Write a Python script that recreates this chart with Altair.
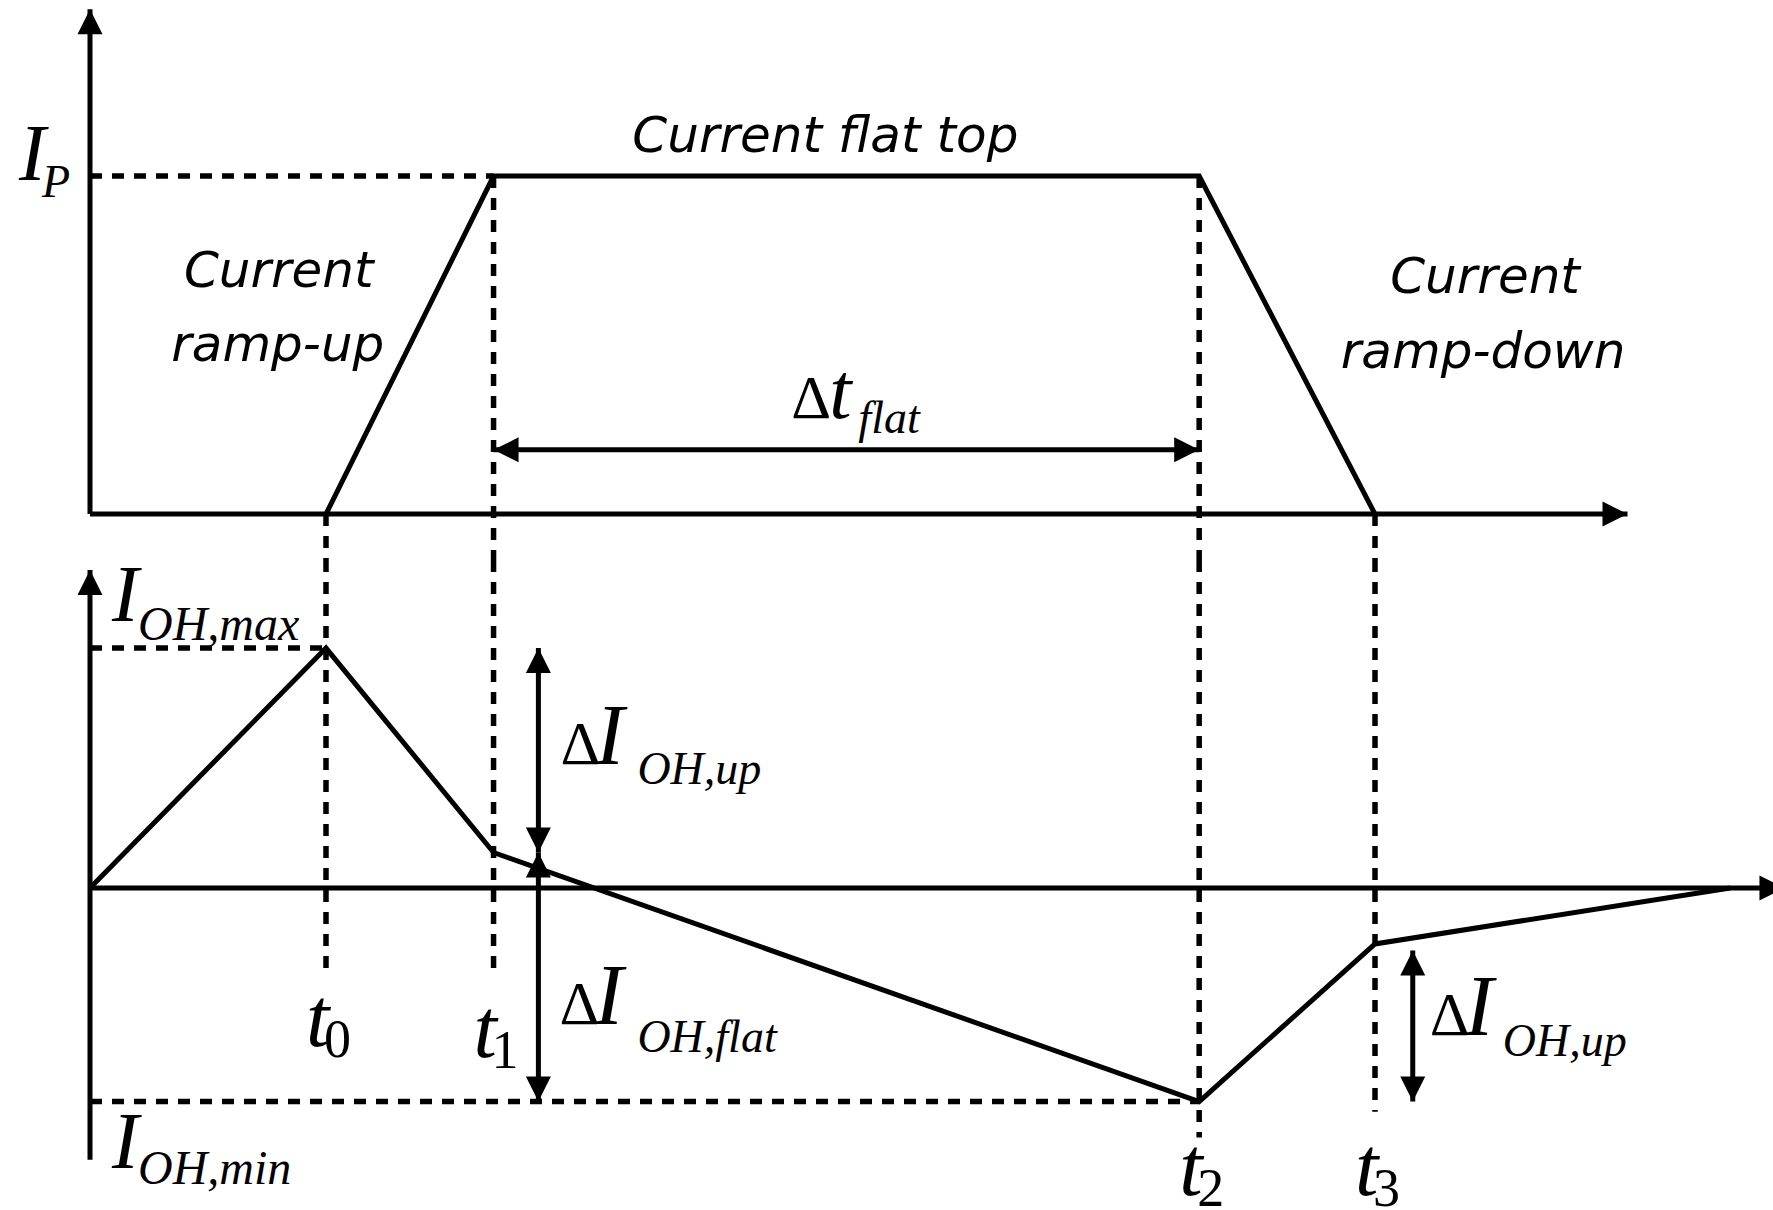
import altair as alt
import pandas as pd

# ---------------------------------------------------------------------------
# Waveform data (arbitrary time units, currents normalised)
# ---------------------------------------------------------------------------
T_SUBSCRIPTS = ["0", "1", "2", "3"]
T_INSTANTS = [2.0, 3.42, 9.40, 10.89]            # t0 .. t3

# plasma current I_p / I_P at t0 .. t3 (trapezoidal pulse)
IP_LEVELS = [0.0, 1.0, 1.0, 0.0]

# OH coil current breakpoints
IOH_TIMES = [0.0, 2.0, 3.42, 9.40, 10.89, 13.90]
IOH_LEVELS = [0.0, 1.0, 0.148, -0.89, -0.233, 0.0]
IOH_MAX = 1.0
IOH_MIN = -0.89

# lower ends of the dashed t-markers in the OH panel
MARKER_ENDS = [-0.35, -0.35, -1.04, -0.933]

# annotation arrows
DT_LEVEL = 0.19          # height of the Δt_flat arrow
DI_TIME = 3.80           # ΔI_OH,up / ΔI_OH,flat arrows
DI2_TIME = 11.21         # second ΔI_OH,up arrow
DI2_TOP = -0.26

# axis extents
X_DOMAIN = [0.0, 14.263]
TOP_DOMAIN = [-2.059, 1.521]     # I_p scale over the full drawing height
BOT_DOMAIN = [-1.342, 3.701]     # I_OH scale over the full drawing height
TOP_SPLIT = -0.136               # boundary between the panels, I_p units
BOT_SPLIT = 1.367                # same boundary, I_OH units
TOP_T_END = 13.03
BOT_T_END = 14.36
TOP_I_END = 1.494
BOT_I_RANGE = [-1.133, 1.325]

# ---------------------------------------------------------------------------
# drawing helpers
# ---------------------------------------------------------------------------
W, H = 1683, 1210
XS = alt.Scale(domain=X_DOMAIN, nice=False, zero=False)
Y_TOP = alt.Scale(domain=TOP_DOMAIN, nice=False, zero=False)
Y_BOT = alt.Scale(domain=BOT_DOMAIN, nice=False, zero=False)
LW = 5
DASH_W = 5.5
DASH = [12, 10]
ARROW = "M0,0L-1,2L1,2Z"       # arrow head, tip at the anchor point
HEAD = 625
MATH = "Liberation Serif"
SANS = "DejaVu Sans"
I_BIG = 86      # italic I of the ΔI labels
I_MID = 80      # italic I of the axis labels
SUB = 46        # subscripts
DELTA = 62


def enc(ys, two=False):
    e = dict(x=alt.X("x:Q", scale=XS, axis=None),
             y=alt.Y("y:Q", scale=ys, axis=None))
    if two:
        e["x2"] = alt.X2("x2:Q")
        e["y2"] = alt.Y2("y2:Q")
    return e


def segment(x0, y0, x1, y1, ys, dashed=False):
    df = pd.DataFrame({"x": [x0], "y": [y0], "x2": [x1], "y2": [y1]})
    kw = dict(color="black", strokeWidth=LW, strokeCap="butt")
    if dashed:
        kw["strokeDash"] = DASH
        kw["strokeWidth"] = DASH_W
    return alt.Chart(df).mark_rule(**kw).encode(**enc(ys, True))


def head(x, y, angle, ys):
    df = pd.DataFrame({"x": [x], "y": [y]})
    return alt.Chart(df).mark_point(
        shape=ARROW, size=HEAD, filled=True, color="black",
        opacity=1, strokeWidth=0, angle=angle,
    ).encode(**enc(ys))


def polyline(ts, vs, ys):
    df = pd.DataFrame({"x": ts, "y": vs, "i": list(range(len(ts)))})
    return alt.Chart(df).mark_line(
        color="black", strokeWidth=LW, strokeJoin="miter", strokeMiterLimit=20
    ).encode(order="i:Q", **enc(ys))


def text(x, y, ys, s, size, dx, dy, font=MATH, italic=True, align="left",
         weight=None):
    df = pd.DataFrame({"x": [x], "y": [y]})
    kw = dict(text=s, font=font, fontSize=size, dx=dx, dy=dy, align=align,
              baseline="alphabetic", color="black")
    if italic:
        kw["fontStyle"] = "italic"
    if weight is not None:
        kw["fontWeight"] = weight
    return alt.Chart(df).mark_text(**kw).encode(**enc(ys))


def phase(x, y, s, dx, dy):
    return text(x, y, Y_TOP, s, 50, dx, dy, font=SANS, align="center", weight=300)


t0, t1, t2, t3 = T_INSTANTS
i_t1 = IOH_LEVELS[2]
i_t3 = IOH_LEVELS[4]
t_mid = (t1 + t2) / 2

# ---------------------------------------------------------------------------
# upper panel: plasma current
# ---------------------------------------------------------------------------
top = [
    segment(0, 0, 0, TOP_I_END, Y_TOP),
    head(0, TOP_I_END, 0, Y_TOP),
    segment(0, 0, TOP_T_END, 0, Y_TOP),
    head(TOP_T_END, 0, 90, Y_TOP),
    segment(0, 1.0, t1, 1.0, Y_TOP, dashed=True),
]
for k in range(4):
    top.append(segment(T_INSTANTS[k], IP_LEVELS[k], T_INSTANTS[k], TOP_SPLIT,
                       Y_TOP, dashed=True))
top += [
    polyline(T_INSTANTS, IP_LEVELS, Y_TOP),
    segment(t1, DT_LEVEL, t2, DT_LEVEL, Y_TOP),
    head(t1, DT_LEVEL, 270, Y_TOP),
    head(t2, DT_LEVEL, 90, Y_TOP),
    # I_P
    text(0, 1.0, Y_TOP, "I", I_MID, -71, 4),
    text(0, 1.0, Y_TOP, "P", SUB, -48, 21),
    # Δt_flat
    text(t_mid, DT_LEVEL, Y_TOP, "Δ", DELTA, -55, -32, italic=False),
    text(t_mid, DT_LEVEL, Y_TOP, "t", 80, -17, -32),
    text(t_mid, DT_LEVEL, Y_TOP, "flat", SUB, 12, -17),
    # phase names
    phase(t_mid, 1.0, "Current flat top", -21, -24),
    phase((t0 + t1) / 2, 0.5, "Current", -131, -58),
    phase((t0 + t1) / 2, 0.5, "ramp-up", -132, 16),
    phase((t2 + t3) / 2, 0.5, "Current", 198, -52),
    phase((t2 + t3) / 2, 0.5, "ramp-down", 196, 23),
]

# ---------------------------------------------------------------------------
# lower panel: OH coil current
# ---------------------------------------------------------------------------
bot = [
    segment(0, BOT_I_RANGE[0], 0, BOT_I_RANGE[1], Y_BOT),
    head(0, BOT_I_RANGE[1], 0, Y_BOT),
    segment(0, 0, BOT_T_END, 0, Y_BOT),
    head(BOT_T_END, 0, 90, Y_BOT),
    segment(0, IOH_MAX, t0, IOH_MAX, Y_BOT, dashed=True),
    segment(0, IOH_MIN, t2, IOH_MIN, Y_BOT, dashed=True),
]
for k in range(4):
    bot.append(segment(T_INSTANTS[k], BOT_SPLIT, T_INSTANTS[k], MARKER_ENDS[k],
                       Y_BOT, dashed=True))
bot += [
    polyline(IOH_TIMES, IOH_LEVELS, Y_BOT),
    # ΔI_OH,up and ΔI_OH,flat arrows
    segment(DI_TIME, IOH_MAX, DI_TIME, i_t1, Y_BOT),
    head(DI_TIME, IOH_MAX, 0, Y_BOT),
    head(DI_TIME, i_t1, 180, Y_BOT),
    segment(DI_TIME, i_t1, DI_TIME, IOH_MIN, Y_BOT),
    head(DI_TIME, i_t1, 0, Y_BOT),
    head(DI_TIME, IOH_MIN, 180, Y_BOT),
    # second ΔI_OH,up arrow
    segment(DI2_TIME, DI2_TOP, DI2_TIME, IOH_MIN, Y_BOT),
    head(DI2_TIME, DI2_TOP, 0, Y_BOT),
    head(DI2_TIME, IOH_MIN, 180, Y_BOT),
    # I_OH,max / I_OH,min
    text(0, IOH_MAX, Y_BOT, "I", I_MID, 22, -27),
    text(0, IOH_MAX, Y_BOT, "OH,max", SUB + 2, 48, -8),
    text(0, IOH_MIN, Y_BOT, "I", I_MID, 22, 66),
    text(0, IOH_MIN, Y_BOT, "OH,min", SUB + 2, 48, 82),
    # ΔI_OH,up (middle)
    text(DI_TIME, i_t1, Y_BOT, "Δ", DELTA, 22, -88, italic=False),
    text(DI_TIME, i_t1, Y_BOT, "I", I_BIG, 57, -88),
    text(DI_TIME, i_t1, Y_BOT, "OH,up", SUB, 99, -68),
    # ΔI_OH,flat
    text(DI_TIME, i_t1, Y_BOT, "Δ", DELTA, 21, 172, italic=False),
    text(DI_TIME, i_t1, Y_BOT, "I", I_BIG, 56, 172),
    text(DI_TIME, i_t1, Y_BOT, "OH,flat", SUB, 99, 200),
    # ΔI_OH,up (right)
    text(DI2_TIME, i_t3, Y_BOT, "Δ", DELTA, 17, 91, italic=False),
    text(DI2_TIME, i_t3, Y_BOT, "I", I_BIG, 52, 91),
    text(DI2_TIME, i_t3, Y_BOT, "OH,up", SUB, 90, 112),
]
# time labels t0 .. t3
T_LABEL_DY = [158, 169, 307, 307]
for k in range(4):
    bot.append(text(T_INSTANTS[k], 0, Y_BOT, "t", 84, -20, T_LABEL_DY[k]))
    bot.append(text(T_INSTANTS[k], 0, Y_BOT, T_SUBSCRIPTS[k], 54, -2,
                    T_LABEL_DY[k] + 11, italic=False))

chart = (
    alt.layer(alt.layer(*top), alt.layer(*bot))
    .resolve_scale(y="independent")
    .properties(
        width=W,
        height=H,
        padding={"left": 90, "top": 0, "right": 0, "bottom": 0},
        autosize=alt.AutoSizeParams(type="none"),
        background="white",
    )
    .configure_view(stroke="transparent")
)

chart.save("out.html", embed_options={"renderer": "svg", "actions": False})
